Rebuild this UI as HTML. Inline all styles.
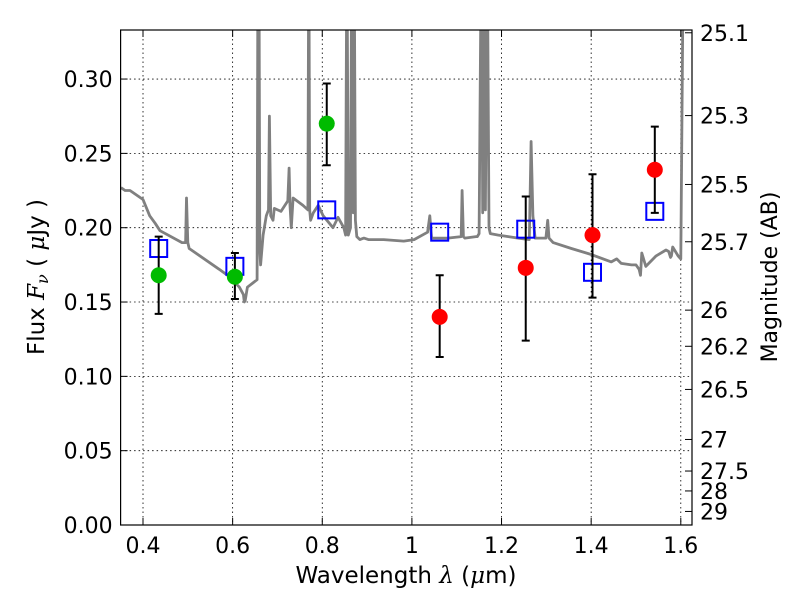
<!DOCTYPE html>
<html><head><meta charset="utf-8"><style>
html,body{margin:0;padding:0;background:#fff;}
svg text{font-family:"DejaVu Sans","Liberation Sans",sans-serif;fill:#000;}
</style></head><body>
<svg id="chart" width="800" height="600" viewBox="0 0 800 600" xmlns="http://www.w3.org/2000/svg">
<rect x="0" y="0" width="800" height="600" fill="#fff"/>
<g id="grid"></g>
<g id="spec"></g>
<g id="marks"></g>
<rect x="120.6" y="30" width="571.4" height="495" fill="none" stroke="#000" stroke-width="1.2"/>
<g id="axes"></g>
<text x="406" y="583" font-size="23" text-anchor="middle">Wavelength  <tspan font-family="DejaVu Serif,serif" font-style="italic">λ</tspan> (<tspan font-family="DejaVu Serif,serif" font-style="italic">μ</tspan>m)</text>
<text transform="translate(44,277) rotate(-90)" font-size="23" text-anchor="middle">Flux  <tspan font-family="DejaVu Serif,serif" font-style="italic">F<tspan font-size="16" dy="4">ν</tspan></tspan><tspan dy="-4">   (  </tspan><tspan font-family="DejaVu Serif,serif" font-style="italic">μ</tspan>Jy )</text>
<text transform="translate(777,277) rotate(-90)" font-size="22" text-anchor="middle">Magnitude (AB)</text>
</svg>
<script>
const xTicks=[0.4,0.6,0.8,1.0,1.2,1.4,1.6];
const xTickLabels=["0.4","0.6","0.8","1","1.2","1.4","1.6"];
const yTicks=[0,0.05,0.10,0.15,0.20,0.25,0.30];
const yTickLabels=["0.00","0.05","0.10","0.15","0.20","0.25","0.30"];
const magTicks=[25.1,25.3,25.5,25.7,26,26.2,26.5,27,27.5,28,29];
const obsWave=[0.435,0.605,0.81,1.062,1.254,1.403,1.542];
const obsFlux=[0.168,0.167,0.270,0.140,0.173,0.195,0.239];
const obsErrLo=[0.026,0.015,0.028,0.027,0.049,0.042,0.029];
const obsErrHi=[0.026,0.016,0.027,0.028,0.048,0.041,0.029];
const obsColor=["#00bb00","#00bb00","#00bb00","#ff0000","#ff0000","#ff0000","#ff0000"];
const modelFlux=[0.186,0.174,0.212,0.197,0.199,0.170,0.211];
const specWave=[0.351,0.360,0.371,0.400,0.415,0.427,0.438,0.487,0.495,0.497,0.500,0.503,0.570,0.593,0.615,0.624,0.626,0.628,0.633,0.6545,0.6565,0.6585,0.6605,0.6625,0.668,0.675,0.680,0.682,0.685,0.690,0.693,0.708,0.723,0.726,0.728,0.731,0.735,0.757,0.768,0.770,0.772,0.774,0.780,0.791,0.802,0.824,0.835,0.848,0.852,0.855,0.858,0.863,0.866,0.869,0.871,0.874,0.877,0.884,0.893,0.903,0.937,0.982,1.005,1.035,1.040,1.044,1.080,1.110,1.112,1.115,1.118,1.143,1.146,1.150,1.155,1.158,1.161,1.164,1.168,1.172,1.175,1.193,1.215,1.237,1.262,1.266,1.270,1.275,1.299,1.303,1.306,1.315,1.356,1.400,1.445,1.457,1.467,1.490,1.500,1.507,1.510,1.513,1.522,1.545,1.567,1.573,1.577,1.579,1.582,1.594,1.600,1.606,1.625];
const specFlux=[0.227,0.225,0.225,0.219,0.208,0.203,0.198,0.190,0.190,0.220,0.190,0.186,0.172,0.167,0.160,0.155,0.150,0.151,0.160,0.165,0.40,0.40,0.185,0.175,0.195,0.208,0.212,0.275,0.208,0.205,0.213,0.211,0.218,0.240,0.215,0.200,0.220,0.215,0.212,0.40,0.212,0.205,0.210,0.215,0.208,0.200,0.207,0.200,0.195,0.40,0.195,0.200,0.40,0.210,0.40,0.205,0.194,0.192,0.193,0.192,0.192,0.191,0.192,0.197,0.208,0.193,0.193,0.194,0.225,0.194,0.193,0.194,0.194,0.196,0.40,0.210,0.40,0.212,0.40,0.200,0.196,0.195,0.194,0.193,0.192,0.258,0.208,0.193,0.193,0.205,0.193,0.190,0.186,0.182,0.177,0.179,0.176,0.175,0.175,0.172,0.168,0.183,0.174,0.181,0.185,0.184,0.180,0.181,0.187,0.181,0.179,0.40,0.40,0.40];
const NS="http://www.w3.org/2000/svg";
const X0=120.6,X1=692,Y0=525,Y1=30,xmin=0.35,xmax=1.625,ymin=0,ymax=0.333;
function xs(v){return X0+(v-xmin)/(xmax-xmin)*(X1-X0);}
function ys(v){return Y0-(v-ymin)/(ymax-ymin)*(Y0-Y1);}
function magToFlux(m){return Math.pow(10,(23.9-m)/2.5);}
function mk(tag,attrs,parent){const e=document.createElementNS(NS,tag);for(const k in attrs)e.setAttribute(k,attrs[k]);parent.appendChild(e);return e;}
const grid=document.getElementById('grid'),axes=document.getElementById('axes');
xTicks.forEach((t,i)=>{const x=xs(t);
 const g=mk('line',{x1:x,x2:x,y1:Y1,y2:Y0,stroke:'#000','stroke-width':0.8,'stroke-dasharray':'1.5,3'},grid);
 
 
 mk('line',{x1:x,x2:x,y1:Y0,y2:Y0-7,stroke:'#000'},axes);
 mk('line',{x1:x,x2:x,y1:Y1,y2:Y1+7,stroke:'#000'},axes);
 const tx=mk('text',{x:x,y:Y0+28,'font-size':22,'text-anchor':'middle'},axes);tx.textContent=xTickLabels[i];
 
 
});
yTicks.forEach((t,i)=>{const y=ys(t);
 const g=mk('line',{x1:X0,x2:X1,y1:y,y2:y,stroke:'#000','stroke-width':0.8,'stroke-dasharray':'1.5,3'},grid);
 
 
 mk('line',{x1:X0,x2:X0+7,y1:y,y2:y,stroke:'#000'},axes);
 const tx=mk('text',{x:X0-8,y:y+8,'font-size':22,'text-anchor':'end'},axes);tx.textContent=yTickLabels[i];
 
 
});
magTicks.forEach(m=>{const y=ys(magToFlux(m));
 mk('line',{x1:X1,x2:X1-7,y1:y,y2:y,stroke:'#000'},axes);
 const tx=mk('text',{x:X1+8,y:y+8,'font-size':22},axes);tx.textContent=String(m);
 
 
});
const spec=document.getElementById('spec');
const defs=mk('defs',{},spec);const cp=mk('clipPath',{id:'clip'},defs);mk('rect',{x:X0,y:Y1,width:X1-X0,height:Y0-Y1},cp);
let d='';specWave.forEach((w,i)=>{d+=(i?'L':'M')+xs(w).toFixed(1)+','+ys(specFlux[i]).toFixed(1);});
const p=mk('path',{d:d,fill:'none',stroke:'#808080','stroke-width':2.8,'stroke-linejoin':'round','clip-path':'url(#clip)'},spec);


const marks=document.getElementById('marks');
obsWave.forEach((w,i)=>{const x=xs(w);
 const sq=mk('rect',{x:x-8.5,y:ys(modelFlux[i])-8.5,width:17,height:17,fill:'none',stroke:'#0000ff','stroke-width':2},marks);
 
 
});
obsWave.forEach((w,i)=>{const x=xs(w);const yt=ys(obsFlux[i]+obsErrHi[i]),yb=ys(obsFlux[i]-obsErrLo[i]);
 const eb=mk('path',{d:`M${x},${yt}L${x},${yb}M${x-4},${yt}L${x+4},${yt}M${x-4},${yb}L${x+4},${yb}`,stroke:'#000','stroke-width':2,fill:'none'},marks);
 
 
 const c=mk('circle',{cx:x,cy:ys(obsFlux[i]),r:8,fill:obsColor[i]},marks);
 
 
});
</script>
</body></html>
